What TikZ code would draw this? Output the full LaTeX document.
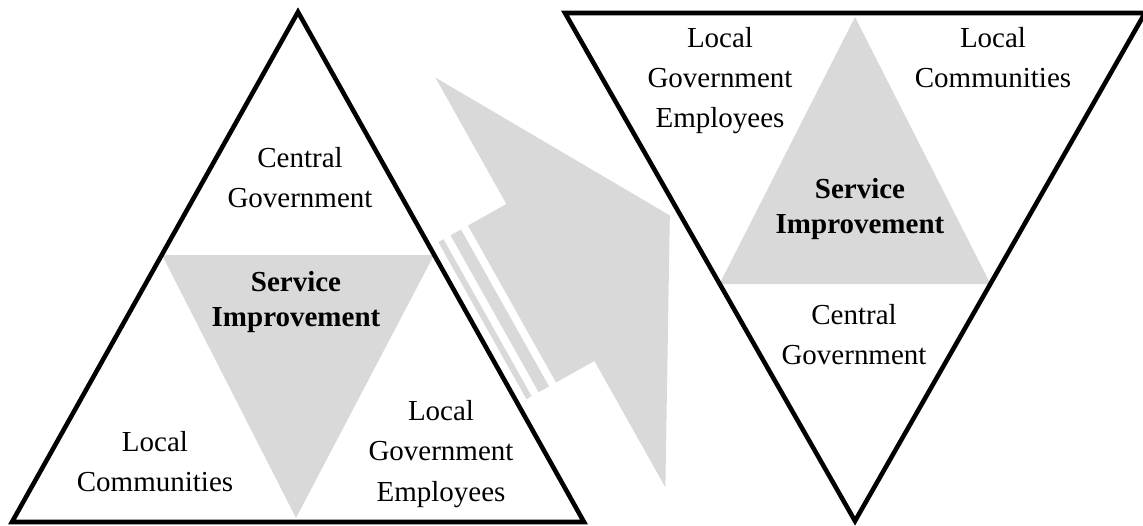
\documentclass[tikz,border=0pt]{standalone}
\usepackage{fontspec}
\setmainfont{Liberation Serif}
\usepackage{tikz}
\definecolor{panelgray}{RGB}{217,217,217}

\begin{document}
\begin{tikzpicture}[
  edge/.style={line width=2.6pt, line join=miter},
  lbl/.style={align=center, font=\fontsize{16.5}{22.8}\selectfont},
  core/.style={align=center, font=\fontsize{16.5}{20}\selectfont\bfseries}]
\useasboundingbox (0,0) rectangle (22.86,10.5);
%%%%% Shift arrow %%%%%
\begin{scope}[shift={(10.24,4.42)}, rotate=29.3]
\fill[panelgray] (0,-1.8)--(0.88,-1.8)--(0.88,-4.7)--(3.62,0)--(0.88,4.7)--(0.88,1.8)--(0,1.8)--cycle;
\fill[panelgray] (-0.40,-1.8) rectangle (-0.16,1.8);
\fill[panelgray] (-0.68,-1.8) rectangle (-0.56,1.8);
\end{scope}
%%%%% Before %%%%%
\fill[panelgray] (3.24,5.40)--(8.68,5.40)--(5.92,0.14)--cycle;
\draw[edge] (0.24,0.06)--(11.68,0.06)--(5.96,10.26)--cycle;
\node[lbl] (cgA) at (6.00,6.94) {Central\\Government};
\node[core] (siA) at (5.92,4.46) {Service\\Improvement};
\node[lbl] (lcA) at (3.10,1.26) {Local\\Communities};
\node[lbl] (lgA) at (8.82,1.42) {Local\\Government\\Employees};
%%%%% After %%%%%
\fill[panelgray] (14.39,4.82)--(19.81,4.82)--(17.10,10.16)--cycle;
\draw[edge] (11.30,10.24)--(22.90,10.24)--(17.10,0.08)--cycle;
\node[lbl] (lgB) at (14.40,8.88) {Local\\Government\\Employees};
\node[lbl] (lcB) at (19.86,9.34) {Local\\Communities};
\node[core] (siB) at (17.20,6.32) {Service\\Improvement};
\node[lbl] (cgB) at (17.08,3.80) {Central\\Government};
\end{tikzpicture}
\end{document}
